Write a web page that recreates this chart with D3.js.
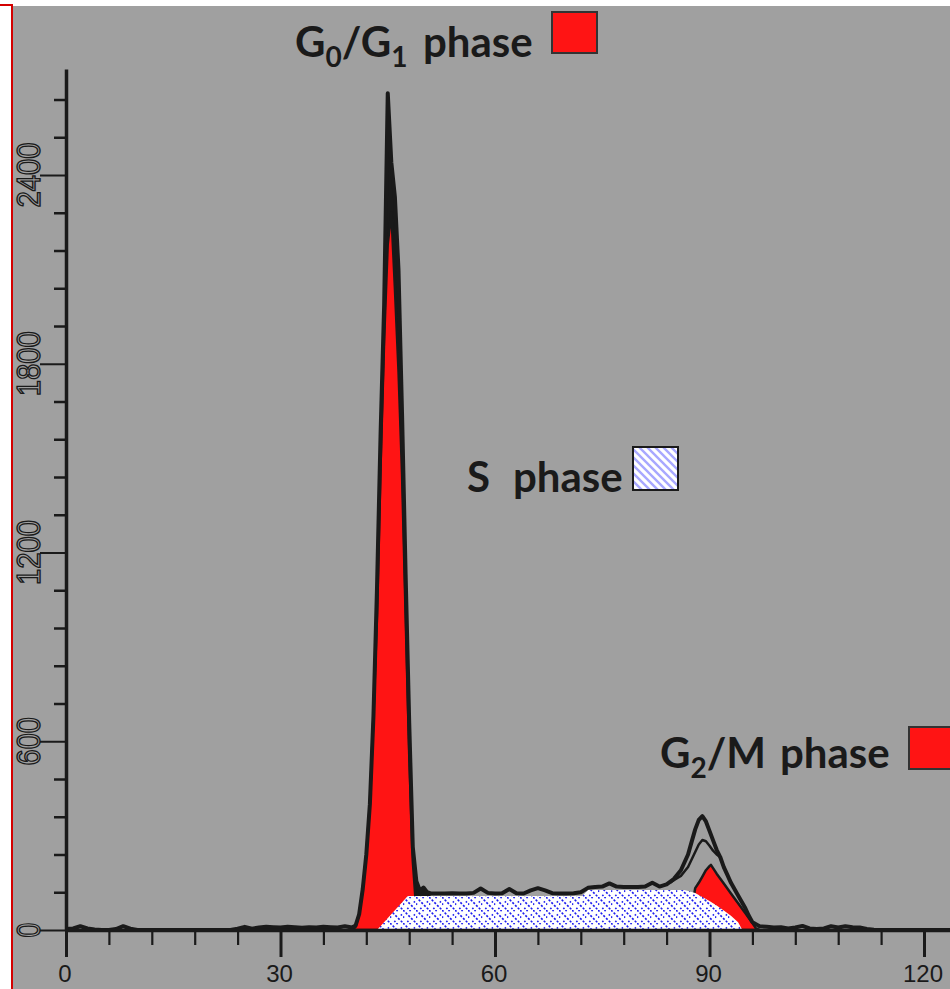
<!DOCTYPE html>
<html>
<head>
<meta charset="utf-8">
<script src="https://cdn.jsdelivr.net/npm/d3@7"></script>
<style>
  body { margin: 0; background: #fff; }
  svg { display: block; }
</style>
</head>
<body>
<div id="chart"></div>
<script>
const width = 950;
const height = 989;

// ---- measured histogram (channel -> count) ----
const dataX = [].concat(
  d3.range(0, 40),
  [40, 40.5, 41, 41.5, 42, 42.5, 43, 43.5, 44, 44.5, 45, 45.5, 46, 46.5, 47, 47.5, 48, 48.5, 49, 49.5, 50, 50.5, 51],
  d3.range(52, 88),
  [87.5, 88, 88.5, 89, 89.5, 90, 90.5, 91, 91.5, 92, 92.5, 93],
  [94, 95, 95.5, 96],
  d3.range(97, 125)
);
const dataCount = [
  3, 5, 12, 5, 2, 0, 0, 3, 12, 4, 0, 0, 0, 0, 0, 0, 0, 0, 0, 0,
  0, 0, 0, 0, 4, 10, 4, 8, 10, 9, 8, 10, 9, 7, 9, 8, 10, 9, 8, 12,
  8, 14, 50, 130, 240, 400, 680, 1090, 1580, 1990, 2660, 2440, 2330, 2100, 1640, 1130, 660, 264, 155, 125, 135, 120, 116,
  116, 116, 117, 116, 116, 118, 132, 118, 116, 117, 130, 117, 116, 126, 133, 126, 117, 116, 116, 117,
  120, 134, 137, 138, 148, 138, 137, 137, 137, 138, 150, 138, 145, 162, 190, 240,
  280, 320, 350, 362, 345, 315, 285, 255, 232, 200, 175, 150,
  110, 70, 45, 25,
  12, 10, 8, 9, 5, 8, 13, 5, 3, 5, 12, 8, 12, 9, 8, 3, 1, 0, 0, 0, 0, 0, 0, 0, 0, 0, 0, 0
];

// ---- fitted components ----
const g1X = [40, 40.5, 41, 41.5, 42, 42.5, 43, 43.5, 44, 44.5, 45, 45.5, 46, 46.5, 47, 47.5, 48, 48.5, 49, 49.5, 50];
const g1Count = [0, 10, 50, 130, 240, 400, 680, 1000, 1480, 1880, 2180, 2282, 2040, 1780, 1450, 1000, 560, 220, 60, 10, 0];

const sX = [43.5, 47.8, 72.2, 73, 86.5, 88, 89, 90, 91, 92, 93, 94, 94.6];
const sCount = [0, 108, 108, 127, 127, 118, 105, 92, 78, 62, 45, 25, 0];

const g2X = [87, 88, 88.5, 89, 89.5, 90, 90.2, 91, 92, 93, 94, 95, 96, 96.5, 97];
const g2Count = [0, 133, 150, 170, 190, 203, 207, 179, 148, 116, 85, 54, 22, 5, 0];

const modelX = [84.5, 85, 86, 87, 88, 88.5, 89, 89.5, 90, 90.5, 91, 91.5];
const modelCount = [150, 158, 172, 200, 248, 272, 286, 282, 268, 252, 240, 232];

// ---- axes ----
const xMajor = [0, 30, 60, 90, 120];
const xMinor = [6, 12, 18, 24, 36, 42, 48, 54, 66, 72, 78, 84, 96, 102, 108, 114];
const yMajor = [0, 600, 1200, 1800, 2400];
const yMinor = [120, 240, 360, 480, 720, 840, 960, 1080, 1320, 1440, 1560, 1680, 1920, 2040, 2160, 2280, 2520, 2640];

const ink = "#1a1a1a";
const red = "#ff1414";

const svg = d3.select("#chart")
  .append("svg")
  .attr("width", width)
  .attr("height", height);

const defs = svg.append("defs");
// S phase hatch: white with dotted blue diagonals
const hatch = defs.append("pattern")
  .attr("id", "hatch")
  .attr("patternUnits", "userSpaceOnUse")
  .attr("width", 13).attr("height", 13);
hatch.append("rect").attr("width", 13).attr("height", 13).attr("fill", "#fff");
hatch.append("path")
  .attr("d", "M0,0L13,13")
  .attr("stroke", "#1e1ef0").attr("stroke-width", 1.6)
  .attr("stroke-dasharray", "2.2 1.6");
hatch.append("path")
  .attr("d", "M0,6.5L6.5,13M6.5,0L13,6.5")
  .attr("stroke", "#1e1ef0").attr("stroke-width", 1.6)
  .attr("stroke-dasharray", "1.6 4.5");

const hatchKey = defs.append("pattern")
  .attr("id", "hatchKey")
  .attr("patternUnits", "userSpaceOnUse")
  .attr("width", 8).attr("height", 8);
hatchKey.append("rect").attr("width", 8).attr("height", 8).attr("fill", "#fff");
hatchKey.append("path")
  .attr("d", "M-2,-2L10,10M-2,6L2,10M6,-2L10,2")
  .attr("stroke", "#a8a8ff").attr("stroke-width", 2.4);

// background + frame
svg.append("rect")
  .attr("x", 13).attr("y", 6)
  .attr("width", width - 13).attr("height", height - 6)
  .attr("fill", "#a0a0a0");
svg.append("path")
  .attr("d", "M0,5H12V" + height)
  .attr("fill", "none")
  .attr("stroke", "#d40000")
  .attr("stroke-width", 2);

const x = d3.scaleLinear().domain([0, 124]).range([66, 66 + 124 * 7.15]);
const y = d3.scaleLinear().domain([0, 2737]).range([930, 69]);

const histo = d3.zip(dataX, dataCount);
const g1 = d3.zip(g1X, g1Count);
const sPh = d3.zip(sX, sCount);
const g2 = d3.zip(g2X, g2Count);
const model = d3.zip(modelX, modelCount);

const area = d3.area()
  .x((d) => x(d[0]))
  .y0(y(0))
  .y1((d) => y(d[1]));
const line = d3.line()
  .x((d) => x(d[0]))
  .y((d) => y(d[1]));

const plot = svg.append("g").attr("class", "plot");

// G0/G1 peak of the raw data is solid black under the red fit
plot.append("path")
  .datum(histo.filter((d) => d[0] >= 40 && d[0] <= 51))
  .attr("d", area)
  .attr("fill", ink);

plot.selectAll(".gfit")
  .data([g1, g2])
  .enter()
  .append("path")
  .attr("class", "gfit")
  .attr("d", area)
  .attr("fill", red)
  .attr("stroke", ink)
  .attr("stroke-width", 2.5)
  .attr("stroke-linejoin", "round");

plot.append("path")
  .datum(sPh)
  .attr("d", area)
  .attr("fill", "url(#hatch)");

plot.append("path")
  .datum(model)
  .attr("d", line)
  .attr("fill", "none")
  .attr("stroke", ink)
  .attr("stroke-width", 2.5)
  .attr("stroke-linejoin", "round");

plot.append("path")
  .datum(histo)
  .attr("d", line)
  .attr("fill", "none")
  .attr("stroke", ink)
  .attr("stroke-width", 4)
  .attr("stroke-linejoin", "round");

// x axis
const xAxisMinor = svg.append("g")
  .attr("transform", "translate(0,930)")
  .call(d3.axisBottom(x).tickValues(xMinor).tickSize(15).tickSizeOuter(0).tickFormat(""));
const xAxis = svg.append("g")
  .attr("transform", "translate(0,930)")
  .call(d3.axisBottom(x).tickValues(xMajor).tickSize(27).tickSizeOuter(0).tickFormat(""));
xAxisMinor.select(".domain").remove();
xAxis.select(".domain").attr("stroke", ink).attr("stroke-width", 3.5);
xAxisMinor.selectAll("line").attr("stroke", ink).attr("stroke-width", 2.2);
xAxis.selectAll("line").attr("stroke", ink).attr("stroke-width", 3);

// y axis
const yAxisMinor = svg.append("g")
  .attr("transform", "translate(66,0)")
  .call(d3.axisLeft(y).tickValues(yMinor).tickSize(12).tickSizeOuter(0).tickFormat(""));
const yAxis = svg.append("g")
  .attr("transform", "translate(66,0)")
  .call(d3.axisLeft(y).tickValues(yMajor).tickSize(26).tickSizeOuter(0).tickFormat(""));
yAxisMinor.select(".domain").remove();
yAxis.select(".domain").attr("stroke", ink).attr("stroke-width", 3.5);
yAxisMinor.selectAll("line").attr("stroke", ink).attr("stroke-width", 2.5);
yAxis.selectAll("line").attr("stroke", ink).attr("stroke-width", 2);

// tick labels
svg.selectAll(".xlab")
  .data(xMajor)
  .enter()
  .append("text")
  .attr("class", "xlab")
  .attr("x", (d) => x(d) - 1)
  .attr("y", 982)
  .attr("text-anchor", "middle")
  .attr("font-family", "Liberation Sans, Arial, sans-serif")
  .attr("font-size", 24)
  .attr("fill", ink)
  .text((d) => d);

svg.selectAll(".ylab")
  .data(yMajor)
  .enter()
  .append("text")
  .attr("class", "ylab")
  .attr("transform", (d) => "translate(40," + y(d) + ") rotate(-90)")
  .attr("text-anchor", "middle")
  .attr("font-family", "Liberation Sans, Arial, sans-serif")
  .attr("font-size", 33)
  .attr("textLength", (d) => String(d).length * 16.8 - 2)
  .attr("lengthAdjust", "spacingAndGlyphs")
  .attr("fill", "none")
  .attr("stroke", ink)
  .attr("stroke-width", 1.4)
  .text((d) => d);

// legends
function phaseLabel(x0, base, main, sub, rest, phaseX) {
  const t = svg.append("text")
    .attr("x", x0)
    .attr("y", base)
    .attr("font-family", "Lato, 'Open Sans', sans-serif")
    .attr("font-weight", "bold")
    .attr("font-size", 42)
    .attr("fill", ink);
  t.append("tspan").text(main);
  if (sub !== null) {
    t.append("tspan").attr("font-size", 28).attr("dy", 10).text(sub[0]);
    t.append("tspan").attr("dy", -10).text(rest);
    if (sub.length > 1) {
      t.append("tspan").attr("font-size", 28).attr("dy", 10).text(sub[1]);
    }
  }
  svg.append("text")
    .attr("x", phaseX)
    .attr("y", base)
    .attr("font-family", "Lato, 'Open Sans', sans-serif")
    .attr("font-weight", "bold")
    .attr("font-size", 42)
    .attr("fill", ink)
    .text("phase");
}

phaseLabel(295, 57, "G", ["0", "1"], "/G", 423);
phaseLabel(467, 492, "S", null, null, 513);
phaseLabel(660, 768, "G", ["2"], "/M", 780);

svg.append("rect")
  .attr("x", 552).attr("y", 12).attr("width", 45).attr("height", 41)
  .attr("fill", red).attr("stroke", "#333").attr("stroke-width", 2);
svg.append("rect")
  .attr("x", 633).attr("y", 447).attr("width", 45).attr("height", 43)
  .attr("fill", "url(#hatchKey)").attr("stroke", ink).attr("stroke-width", 2);
svg.append("rect")
  .attr("x", 909).attr("y", 727).attr("width", 46).attr("height", 42)
  .attr("fill", red).attr("stroke", "#333").attr("stroke-width", 2);
</script>
</body>
</html>
